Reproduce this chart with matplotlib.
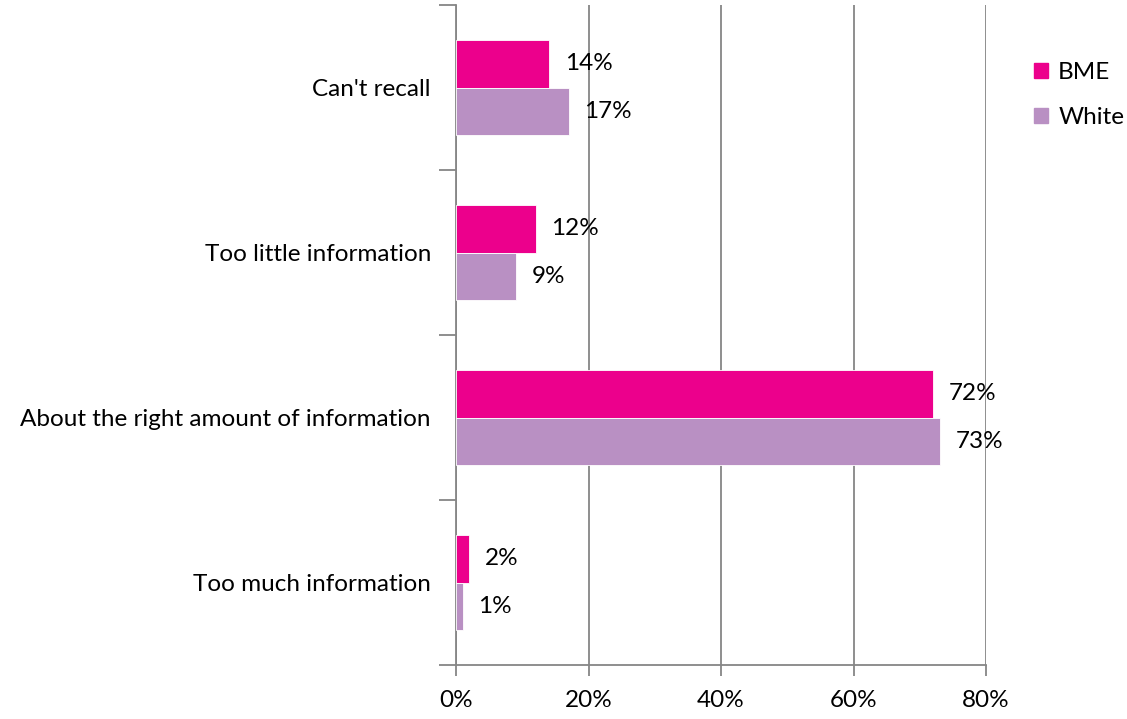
import numpy as np
from matplotlib import pyplot as plt
from matplotlib.patches import Patch

plt.rcParams['font.family'] = ['Lato', 'DejaVu Sans']

categories = ["Too much information", "About the right amount of information",
              "Too little information", "Can't recall"]
bme = [2, 72, 12, 14]
white = [1, 73, 9, 17]
xticks = [0, 20, 40, 60, 80]
xtick_labels = ["0%", "20%", "40%", "60%", "80%"]

c_bme = "#EC008C"
c_white = "#B990C3"
grid_c = "#868686"
fs = 17.5

fig = plt.figure(figsize=(11.27, 7.19), dpi=100)
ax = fig.add_axes([456/1127, 1 - 665/719, 530/1127, 660/719])

y = np.arange(len(categories))
h = 0.285
ax.barh(y + h/2, bme, height=h, color=c_bme, edgecolor="white", linewidth=0.6, zorder=3)
ax.barh(y - h/2, white, height=h, color=c_white, edgecolor="white", linewidth=0.6, zorder=3)

for i in range(len(categories)):
    ax.text(bme[i] + 2.4, y[i] + h/2, f"{bme[i]}%", va="center", ha="left", fontsize=fs)
    ax.text(white[i] + 2.4, y[i] - h/2, f"{white[i]}%", va="center", ha="left", fontsize=fs)

ax.set_xlim(0, 80)
ax.set_ylim(-0.5, len(categories) - 0.5)
ax.set_xticks(xticks)
ax.set_xticklabels(xtick_labels, fontsize=fs)
ax.set_yticks(np.arange(-0.5, len(categories)))
ax.set_yticklabels([])
ax.set_yticks(y, minor=True)
ax.set_yticklabels(categories, minor=True, fontsize=fs)
ax.tick_params(axis="y", which="minor", length=0, pad=18)
ax.tick_params(axis="y", which="major", length=12, color=grid_c, width=1.3)
ax.tick_params(axis="x", length=8, color=grid_c, width=1.3, pad=10)

ax.grid(axis="x", color=grid_c, linewidth=1.3, zorder=0)
for s in ["top", "right"]:
    ax.spines[s].set_visible(False)
for s in ["left", "bottom"]:
    ax.spines[s].set_color(grid_c)
    ax.spines[s].set_linewidth(1.3)

handles = [Patch(color=c_bme, label="BME"), Patch(color=c_white, label="White")]
fig.legend(handles=handles, loc="upper left", bbox_to_anchor=(1012/1127, 1 - 40/719),
           frameon=False, fontsize=fs, handlelength=0.6, handleheight=0.6,
           handletextpad=0.4, labelspacing=1.0)

fig.savefig("out.png", dpi=100)
